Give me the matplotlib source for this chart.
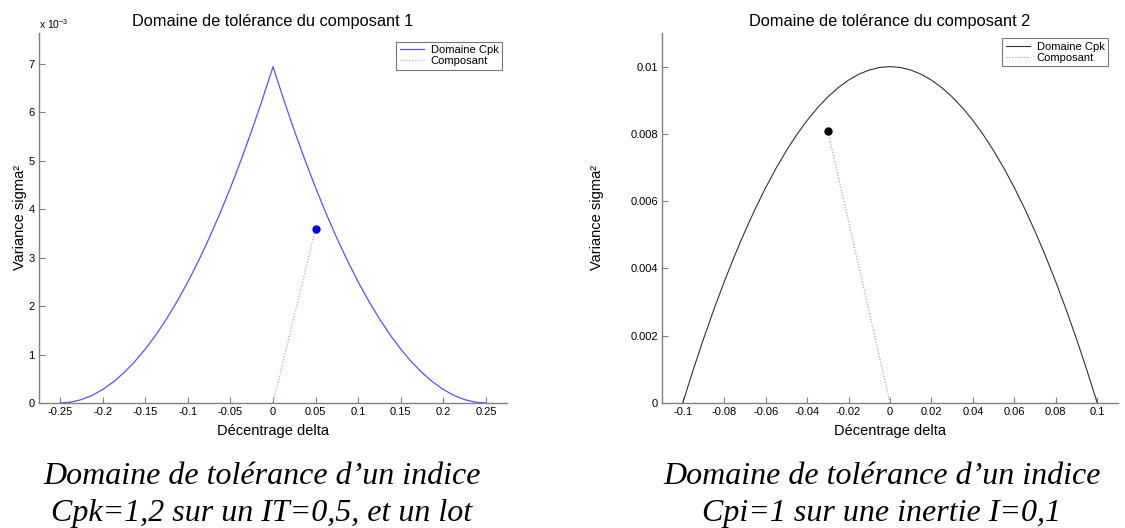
import numpy as np
import matplotlib
matplotlib.use("Agg")
import matplotlib.pyplot as plt

# composant 1 : domaine Cpk (variance en 1e-3)
delta1 = [-0.25, -0.2375, -0.225, -0.2125, -0.2, -0.1875, -0.175, -0.1625, -0.15, -0.1375,
          -0.125, -0.1125, -0.1, -0.0875, -0.075, -0.0625, -0.05, -0.0375, -0.025, -0.0125,
          0.0, 0.0125, 0.025, 0.0375, 0.05, 0.0625, 0.075, 0.0875, 0.1, 0.1125,
          0.125, 0.1375, 0.15, 0.1625, 0.175, 0.1875, 0.2, 0.2125, 0.225, 0.2375, 0.25]
var1 = [0.0, 0.017, 0.069, 0.156, 0.278, 0.434, 0.625, 0.851, 1.111, 1.406,
        1.736, 2.101, 2.5, 2.934, 3.403, 3.906, 4.444, 5.017, 5.625, 6.267,
        6.944, 6.267, 5.625, 5.017, 4.444, 3.906, 3.403, 2.934, 2.5, 2.101,
        1.736, 1.406, 1.111, 0.851, 0.625, 0.434, 0.278, 0.156, 0.069, 0.017, 0.0]
comp1_x = [0.0, 0.05]
comp1_y = [0.0, 3.6]

# composant 2 : domaine inertie
delta2 = [-0.1, -0.095, -0.09, -0.085, -0.08, -0.075, -0.07, -0.065, -0.06, -0.055,
          -0.05, -0.045, -0.04, -0.035, -0.03, -0.025, -0.02, -0.015, -0.01, -0.005,
          0.0, 0.005, 0.01, 0.015, 0.02, 0.025, 0.03, 0.035, 0.04, 0.045,
          0.05, 0.055, 0.06, 0.065, 0.07, 0.075, 0.08, 0.085, 0.09, 0.095, 0.1]
var2 = [0.0, 0.000975, 0.0019, 0.002775, 0.0036, 0.004375, 0.0051, 0.005775, 0.0064, 0.006975,
        0.0075, 0.007975, 0.0084, 0.008775, 0.0091, 0.009375, 0.0096, 0.009775, 0.0099, 0.009975,
        0.01, 0.009975, 0.0099, 0.009775, 0.0096, 0.009375, 0.0091, 0.008775, 0.0084, 0.007975,
        0.0075, 0.006975, 0.0064, 0.005775, 0.0051, 0.004375, 0.0036, 0.002775, 0.0019, 0.000975, 0.0]
comp2_x = [0.0, -0.03]
comp2_y = [0.0, 0.0081]

xt1 = [-0.25, -0.2, -0.15, -0.1, -0.05, 0, 0.05, 0.1, 0.15, 0.2, 0.25]
xt1_lab = ['-0.25', '-0.2', '-0.15', '-0.1', '-0.05', '0', '0.05', '0.1', '0.15', '0.2', '0.25']
yt1 = [0, 1, 2, 3, 4, 5, 6, 7]
xt2 = [-0.1, -0.08, -0.06, -0.04, -0.02, 0, 0.02, 0.04, 0.06, 0.08, 0.1]
xt2_lab = ['-0.1', '-0.08', '-0.06', '-0.04', '-0.02', '0', '0.02', '0.04', '0.06', '0.08', '0.1']
yt2 = [0, 0.002, 0.004, 0.006, 0.008, 0.01]
yt2_lab = ['0', '0.002', '0.004', '0.006', '0.008', '0.01']

plt.rcParams['font.family'] = ['Liberation Sans', 'DejaVu Sans']

W, H = 1125, 528
fig = plt.figure(figsize=(W / 100, H / 100), dpi=100)

def px_axes(x0, x1, ytop, ybot):
    return fig.add_axes([x0 / W, (H - ybot) / H, (x1 - x0) / W, (ybot - ytop) / H])

def style(ax):
    for s in ['top', 'right']:
        ax.spines[s].set_visible(False)
    for s in ['left', 'bottom']:
        ax.spines[s].set_color('#808080')
        ax.spines[s].set_linewidth(1.0)
    ax.tick_params(direction='in', length=4, color='#808080', labelsize=8, pad=3)

def legende(ax, anchor):
    leg = ax.legend(loc='upper right', bbox_to_anchor=anchor, fontsize=8,
                    frameon=True, fancybox=False, handlelength=2.2, borderpad=0.3,
                    labelspacing=0.1, handletextpad=0.6, borderaxespad=0)
    leg.get_frame().set_edgecolor('#555555')
    leg.get_frame().set_linewidth(0.8)

# --- graphe 1
ax1 = px_axes(39, 507, 33, 403)
style(ax1)
ax1.plot(delta1, var1, color='#5555ff', lw=0.9, label='Domaine Cpk')
ax1.plot(comp1_x, comp1_y, color='#9999ff', lw=0.8, ls=':', label='Composant')
ax1.plot(comp1_x[1], comp1_y[1], 'o', color='#0000ee', ms=5)
ax1.set_xlim(-0.2747, 0.2747)
ax1.set_ylim(0, 7.64)
ax1.set_xticks(xt1)
ax1.set_xticklabels(xt1_lab)
ax1.set_yticks(yt1)
ax1.set_title('Domaine de tolérance du composant 1', fontsize=11.8, pad=5)
ax1.set_xlabel('Décentrage delta', fontsize=10.5, labelpad=5)
ax1.set_ylabel('Variance sigma²', fontsize=10.5)
ax1.yaxis.set_label_coords(-0.026, 0.5)
ax1.text(0.0, 1.006, r'x 10$^{\mathregular{-3}}$', transform=ax1.transAxes,
         fontsize=7.5, ha='left', va='bottom')
legende(ax1, (0.989, 0.976))

# --- graphe 2
ax2 = px_axes(662, 1118, 33, 403)
style(ax2)
ax2.plot(delta2, var2, color='#333333', lw=0.8, label='Domaine Cpk')
ax2.plot(comp2_x, comp2_y, color='#999999', lw=0.8, ls=':', label='Composant')
ax2.plot(comp2_x[1], comp2_y[1], 'o', color='black', ms=5)
ax2.set_xlim(-0.11, 0.11)
ax2.set_ylim(0, 0.011)
ax2.set_xticks(xt2)
ax2.set_xticklabels(xt2_lab)
ax2.set_yticks(yt2)
ax2.set_yticklabels(yt2_lab)
ax2.set_title('Domaine de tolérance du composant 2', fontsize=11.8, pad=5)
ax2.set_xlabel('Décentrage delta', fontsize=10.5, labelpad=5)
ax2.set_ylabel('Variance sigma²', fontsize=10.5)
ax2.yaxis.set_label_coords(-0.128, 0.5)
legende(ax2, (0.978, 0.986))

# --- légendes sous les graphes
cap = dict(family=['Liberation Serif', 'DejaVu Serif'], style='italic', fontsize=23,
           ha='center', va='baseline')
fig.text(262 / W, 1 - 484 / H, 'Domaine de tolérance d\u2019un indice', **cap)
fig.text(262 / W, 1 - 521 / H, 'Cpk=1,2 sur un IT=0,5, et un lot', **cap)
fig.text(882 / W, 1 - 484 / H, 'Domaine de tolérance d\u2019un indice', **cap)
fig.text(882 / W, 1 - 521 / H, 'Cpi=1 sur une inertie I=0,1', **cap)

fig.savefig('out.png', dpi=100, facecolor='white')
